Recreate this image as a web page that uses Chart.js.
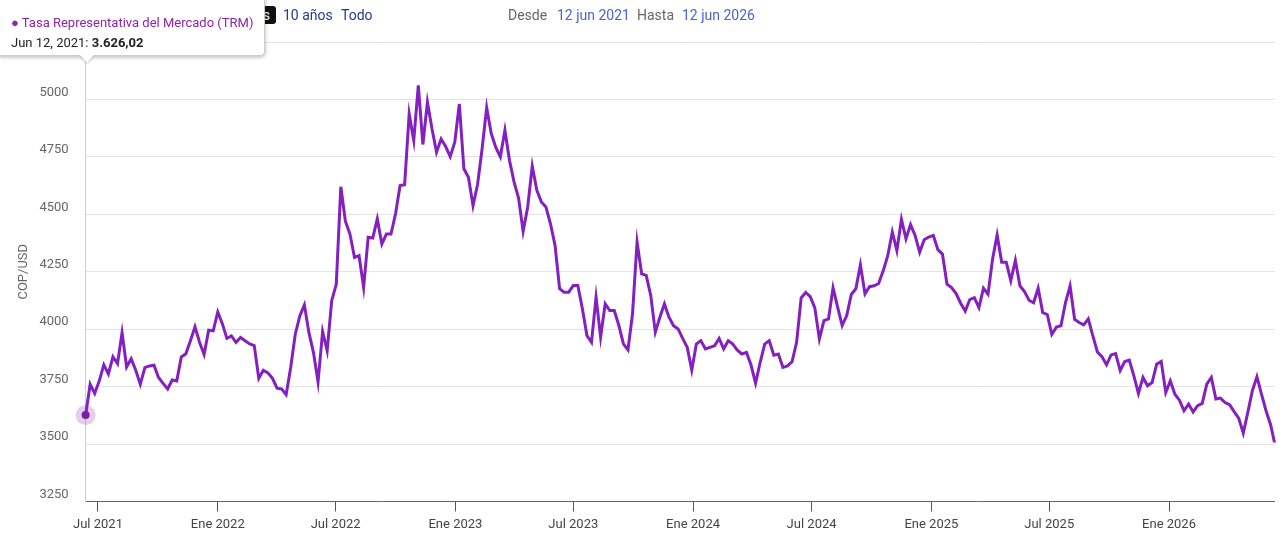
<!DOCTYPE html>
<html lang="es">
<head>
<meta charset="utf-8">
<title>TRM</title>
<script src="https://cdn.jsdelivr.net/npm/chart.js@4.4.1/dist/chart.umd.min.js"></script>
<style>
  html, body { margin: 0; padding: 0; background: #fff; }
  body { width: 1280px; height: 546px; position: relative; overflow: hidden; font-family: Roboto, Arial, sans-serif; }
  #grafico { position: absolute; left: 0; top: 0; }
  .barra { position: absolute; top: 6px; font-size: 14px; line-height: 18px; }
  .rango { color: #1f3c88; }
  .sel { background: #111; color: #fff; border-radius: 3px; padding: 1px 6px; }
  .gris { color: #666; }
  .azul { color: #4a63d6; }
  #tooltip {
    position: absolute; left: -3px; top: -6px; width: 266px; height: 60px;
    background: #fff; border: 1px solid #ccc; border-radius: 4px;
    box-shadow: 0 1px 4px rgba(0,0,0,0.3); font-size: 13px; z-index: 5;
  }
  #tooltip::after {
    content: ''; position: absolute; left: 82px; bottom: -8px;
    border-left: 7px solid transparent; border-right: 7px solid transparent;
    border-top: 8px solid #fff; filter: drop-shadow(0 1px 1px rgba(0,0,0,0.25));
  }
  #tooltip .serie { position: absolute; left: 13px; top: 20px; color: #8e24aa; white-space: nowrap; }
  #tooltip .valor { position: absolute; left: 13px; top: 40px; color: #222; white-space: nowrap; }
</style>
</head>
<body>
<canvas id="grafico" width="1280" height="546"></canvas>

<div class="barra" style="left:222px"><span class="sel">5 años</span></div>
<div class="barra rango" style="left:283px">10 años</div>
<div class="barra rango" style="left:341px">Todo</div>
<div class="barra gris" style="left:508px">Desde</div>
<div class="barra azul" style="left:557px">12 jun 2021</div>
<div class="barra gris" style="left:637px">Hasta</div>
<div class="barra azul" style="left:682px">12 jun 2026</div>

<div id="tooltip">
  <div class="serie">● Tasa Representativa del Mercado (TRM)</div>
  <div class="valor">Jun 12, 2021: <b>3.626,02</b></div>
</div>

<script>
// TRM semanal (COP/USD), desde 12 jun 2021 hasta 12 jun 2026
const inicio = '2021-06-12';
const fin = '2026-06-12';
const trm = [
  3626, 3760, 3720, 3775, 3845, 3805, 3880, 3850, 3985, 3835,
  3871, 3821, 3760, 3833, 3840, 3843, 3790, 3764, 3740, 3779,
  3775, 3879, 3893, 3950, 4010, 3943, 3890, 3996, 3993, 4075,
  4024, 3960, 3971, 3943, 3964, 3950, 3936, 3929, 3786, 3821,
  3810, 3786, 3743, 3740, 3715, 3833, 3978, 4058, 4106, 3985,
  3898, 3770, 3990, 3906, 4124, 4196, 4620, 4470, 4414, 4312,
  4320, 4182, 4400, 4397, 4480, 4371, 4414, 4414, 4501, 4625,
  4629, 4937, 4821, 5061, 4804, 4988, 4872, 4770, 4828, 4795,
  4751, 4814, 4980, 4698, 4661, 4538, 4630, 4786, 4965, 4852,
  4791, 4750, 4866, 4735, 4641, 4571, 4426, 4532, 4710, 4605,
  4554, 4532, 4459, 4365, 4176, 4161, 4161, 4190, 4190, 4089,
  3972, 3943, 4140, 3965, 4110, 4081, 4081, 4016, 3936, 3910,
  4067, 4379, 4241, 4234, 4147, 3987, 4052, 4110, 4052, 4015,
  4001, 3960, 3921, 3822, 3935, 3950, 3914, 3921, 3928, 3960,
  3914, 3950, 3935, 3909, 3892, 3899, 3844, 3765, 3855, 3935,
  3950, 3887, 3892, 3834, 3840, 3858, 3943, 4136, 4160, 4142,
  4093, 3957, 4037, 4045, 4180, 4096, 4016, 4059, 4151, 4176,
  4280, 4154, 4185, 4189, 4199, 4254, 4320, 4423, 4342, 4478,
  4393, 4455, 4408, 4335, 4389, 4401, 4408, 4346, 4327, 4196,
  4181, 4155, 4113, 4079, 4129, 4137, 4094, 4178, 4152, 4306,
  4410, 4291, 4291, 4211, 4300, 4189, 4164, 4126, 4115, 4178,
  4072, 4064, 3977, 4009, 4015, 4116, 4188, 4043, 4029, 4019,
  4045, 3971, 3901, 3880, 3845, 3888, 3894, 3820, 3859, 3865,
  3797, 3720, 3790, 3754, 3768, 3848, 3860, 3725, 3775, 3717,
  3691, 3645, 3674, 3640, 3667, 3677, 3761, 3790, 3696, 3700,
  3681, 3671, 3641, 3613, 3548, 3638, 3732, 3793, 3717, 3645,
  3584, 3507
];
const tickFechas = ['2021-07-01', '2022-01-01', '2022-07-01', '2023-01-01', '2023-07-01',
  '2024-01-01', '2024-07-01', '2025-01-01', '2025-07-01', '2026-01-01'];
const tickEtiquetas = ['Jul 2021', 'Ene 2022', 'Jul 2022', 'Ene 2023', 'Jul 2023',
  'Ene 2024', 'Jul 2024', 'Ene 2025', 'Jul 2025', 'Ene 2026'];

const DIA = 86400000;
const t0 = Date.parse(inicio);
const t1 = Date.parse(fin);
// una fecha por semana, la ultima es el cierre del rango
let fechas = trm.map((v, i) => i === trm.length - 1 ? t1 : t0 + i * 7 * DIA);
let puntos = fechas.map((f, i) => ({ x: f, y: trm[i] }));

const morado = '#8420bf';

new Chart(document.getElementById('grafico'), {
  type: 'line',
  data: {
    datasets: [{
      label: 'Tasa Representativa del Mercado (TRM)',
      data: puntos,
      borderColor: morado,
      borderWidth: 3,
      tension: 0,
      pointRadius: c => c.dataIndex === 0 ? 4 : 0,
      pointHoverRadius: 0,
      pointBackgroundColor: '#7b1fa2',
      pointBorderWidth: 0,
      clip: false,
      order: 1
    }, {
      label: 'activo',
      data: [puntos[0]],
      showLine: false,
      pointRadius: 10,
      pointBackgroundColor: 'rgba(142, 36, 170, 0.22)',
      pointBorderWidth: 0,
      clip: false,
      order: 2
    }]
  },
  options: {
    responsive: false,
    animation: false,
    devicePixelRatio: 1,
    layout: { autoPadding: false, padding: { top: 42, right: 5.5, left: 0, bottom: 0 } },
    plugins: { legend: { display: false }, tooltip: { enabled: false } },
    scales: {
      x: {
        type: 'linear',
        min: t0,
        max: t1,
        afterBuildTicks: s => { s.ticks = tickFechas.map(d => ({ value: Date.parse(d) })); },
        afterFit: s => { s.height = 44.5; s.paddingRight = 0; s.paddingLeft = 0; },
        grid: { drawOnChartArea: false, tickLength: 10, color: '#555' },
        border: { color: '#666' },
        ticks: {
          autoSkip: false, maxRotation: 0, padding: 5,
          color: '#444', font: { family: 'Roboto', size: 13 },
          callback: (v, i) => tickEtiquetas[i]
        }
      },
      y: {
        min: 3250,
        max: 5250,
        afterFit: s => { s.width = 85.6; },
        grid: { color: '#e3e3e3', drawTicks: false },
        border: { color: '#cfcfcf' },
        ticks: {
          stepSize: 250, padding: 17, labelOffset: -7,
          color: '#666', font: { family: 'Roboto', size: 13 },
          callback: v => String(v)
        },
        title: {
          display: true, text: 'COP/USD', color: '#666',
          font: { family: 'Roboto', size: 13 }, padding: { top: 16, bottom: 0 }
        }
      }
    }
  }
});
</script>
</body>
</html>
